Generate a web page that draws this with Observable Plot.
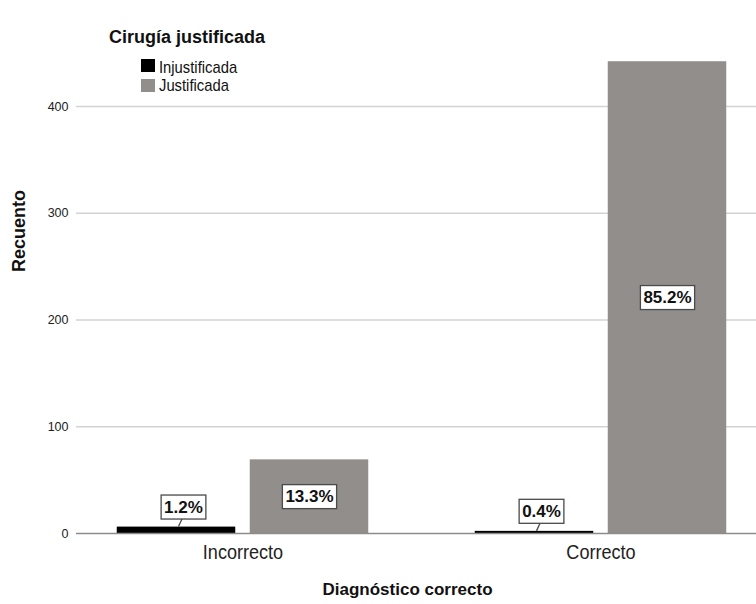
<!DOCTYPE html>
<html>
<head>
<meta charset="utf-8">
<script src="https://cdn.jsdelivr.net/npm/d3@7"></script>
<script src="https://cdn.jsdelivr.net/npm/@observablehq/plot@0.6"></script>
<style>
  html, body { margin: 0; padding: 0; background: #fff; overflow: hidden; }
  #wrap { position: relative; width: 756px; height: 604px; overflow: hidden; }
  #chart { position: absolute; left: 0; top: 0; }
  .lg { position: absolute; white-space: nowrap; color: #111; }
  .lg-title { font: bold 18px "Liberation Sans", Arial, sans-serif; line-height: 18px; left: 109px; top: 28px; }
  .lg-item { font: 17px "Liberation Sans", Arial, sans-serif; line-height: 17px; left: 159px; transform: scaleX(0.87); transform-origin: 0 50%; }
  .sw { position: absolute; left: 141px; width: 14px; height: 13px; }
</style>
</head>
<body>
<div id="wrap">
  <div id="chart"></div>
  <div class="lg lg-title" id="lgTitle"></div>
  <div class="sw" id="sw0" style="top:59px"></div>
  <div class="lg lg-item" id="lg0" style="top:58.5px"></div>
  <div class="sw" id="sw1" style="top:78.5px"></div>
  <div class="lg lg-item" id="lg1" style="top:76.5px"></div>
</div>
<script>
// ---- data ----
const diagnosticos = ["Incorrecto", "Correcto"];
const series = ["Injustificada", "Justificada"];
const seriesColors = ["#000000", "#918e8c"];
const injustificada = [6, 2];
const justificada = [69, 442];
const pctInjustificada = ["1.2%", "0.4%"];
const pctJustificada = ["13.3%", "85.2%"];
const yTicks = [0, 100, 200, 300, 400];
const legendTitle = "Cirugía justificada";
const xTitle = "Diagnóstico correcto";
const yTitle = "Recuento";

const rowsInj = diagnosticos.map((d, i) => ({diag: d, value: injustificada[i], pct: pctInjustificada[i]}));
const rowsJus = diagnosticos.map((d, i) => ({diag: d, value: justificada[i], pct: pctJustificada[i]}));

const INSET = 133;      // space taken by the sibling bar inside each group band
const HALF = 66.5;      // half of the group band minus half a bar

const plot = Plot.plot({
  width: 756,
  height: 604,
  marginTop: 10,
  marginLeft: 76,
  marginRight: 0,
  marginBottom: 71,
  style: {fontFamily: "'Liberation Sans', Arial, sans-serif", background: "white", overflow: "hidden"},
  x: {domain: diagnosticos, range: [76, 767], paddingInner: 0.2975, paddingOuter: 0.1138, round: false, axis: null},
  y: {domain: [0, 490], axis: null},
  marks: [
    Plot.ruleY(yTicks.filter(d => d > 0), {stroke: "#d3d3d3", strokeWidth: 1.6}),
    Plot.barY(rowsInj, {x: "diag", y: "value", fill: seriesColors[0], insetRight: INSET}),
    Plot.barY(rowsJus, {x: "diag", y: "value", fill: seriesColors[1], insetLeft: INSET}),
    Plot.ruleY([0], {stroke: "#8c8c8c", strokeWidth: 1.6}),
    Plot.axisY(yTicks, {tickSize: 0, tickPadding: 8, fontSize: 12.5, fill: "#222", label: null, line: true, stroke: "#8c8c8c", strokeWidth: 1.6}),
    Plot.axisX({tickSize: 0, tickPadding: 11, fontSize: 21, fill: "#222", label: null}),
    Plot.text(rowsJus, {x: "diag", y: d => d.value / 2, text: "pct", dx: HALF, fontSize: 17, fontWeight: "bold", fill: "#111"}),
    Plot.text(rowsInj, {x: "diag", y: "value", text: "pct", dx: -HALF + 7, dy: -20, fontSize: 17, fontWeight: "bold", fill: "#111"}),
    Plot.text([yTitle], {frameAnchor: "left", rotate: -90, dx: -57, fontSize: 18, fontWeight: "bold", fill: "#111"}),
    Plot.text([xTitle], {frameAnchor: "bottom", dx: -9, dy: 61, fontSize: 17, fontWeight: "bold", fill: "#111"})
  ]
});

document.getElementById("chart").append(plot);

// legend
document.getElementById("lgTitle").textContent = legendTitle;
series.forEach((s, i) => {
  document.getElementById("lg" + i).textContent = s;
  document.getElementById("sw" + i).style.background = seriesColors[i];
});

// narrow x tick labels (condensed look of the original)
[...plot.querySelectorAll("text")]
  .filter(t => diagnosticos.includes(t.textContent))
  .forEach(t => {
    const w = t.getComputedTextLength();
    t.setAttribute("textLength", (w * 0.86).toFixed(1));
    t.setAttribute("lengthAdjust", "spacingAndGlyphs");
  });

// label boxes and leader lines
const NS = "http://www.w3.org/2000/svg";
const svgRect = plot.getBoundingClientRect();
const yScale = plot.scale("y");
const allRows = [...rowsInj.map(r => ({...r, leader: true})), ...rowsJus.map(r => ({...r, leader: false}))];
const texts = [...plot.querySelectorAll("text")].filter(t => /%$/.test(t.textContent));
texts.forEach(t => {
  const bb = t.getBBox();
  const r = document.createElementNS(NS, "rect");
  const padX = 3, padY = 2.5;
  r.setAttribute("x", bb.x - padX);
  r.setAttribute("y", bb.y - padY);
  r.setAttribute("width", bb.width + 2 * padX);
  r.setAttribute("height", bb.height + 2 * padY);
  r.setAttribute("fill", "white");
  r.setAttribute("stroke", "#4a4a4a");
  r.setAttribute("stroke-width", "1.3");
  if (t.getAttribute("transform")) r.setAttribute("transform", t.getAttribute("transform"));
  t.parentNode.insertBefore(r, t);
  const row = allRows.find(d => d.pct === t.textContent);
  if (row && row.leader) {
    const rb = r.getBoundingClientRect();
    const cx = rb.left + rb.width / 2 - svgRect.left;
    const bottom = rb.bottom - svgRect.top;
    const top = yScale.apply(row.value);
    const l = document.createElementNS(NS, "line");
    l.setAttribute("x1", cx - 5);
    l.setAttribute("y1", top);
    l.setAttribute("x2", cx - 1.5);
    l.setAttribute("y2", bottom);
    l.setAttribute("stroke", "#4a4a4a");
    l.setAttribute("stroke-width", "1.3");
    plot.append(l);
  }
});
</script>
</body>
</html>
